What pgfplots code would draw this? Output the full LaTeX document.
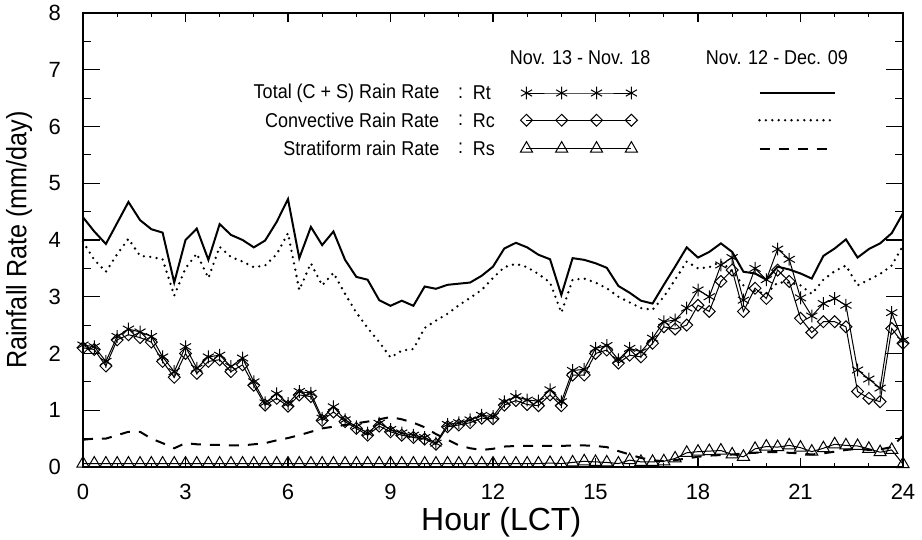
\documentclass[border=0pt]{standalone}
\usepackage{fontspec}
\setmainfont{Liberation Sans}
\newfontfamily\narrowfont{Liberation Sans}[FakeStretch=0.9]
\usepackage{pgfplots}
\pgfplotsset{compat=1.18}
\usepackage{pgfplotstable}

% Nov. 13 - Nov. 18 (20-min means)
\pgfplotstableread{
h Rt Rc Rs
0.00 2.15 2.10 0.06
0.33 2.12 2.07 0.06
0.67 1.86 1.78 0.06
1.00 2.30 2.24 0.06
1.33 2.43 2.33 0.06
1.67 2.38 2.28 0.06
2.00 2.30 2.20 0.06
2.33 1.94 1.86 0.06
2.67 1.68 1.58 0.06
3.00 2.12 2.00 0.06
3.33 1.74 1.65 0.06
3.67 1.94 1.86 0.06
4.00 1.97 1.89 0.06
4.33 1.77 1.68 0.06
4.67 1.92 1.80 0.06
5.00 1.50 1.44 0.06
5.33 1.13 1.09 0.06
5.67 1.29 1.21 0.06
6.00 1.12 1.07 0.06
6.33 1.33 1.27 0.06
6.67 1.30 1.24 0.06
7.00 0.86 0.82 0.06
7.33 1.06 0.97 0.06
7.67 0.83 0.80 0.06
8.00 0.71 0.68 0.06
8.33 0.60 0.56 0.06
8.67 0.77 0.72 0.06
9.00 0.66 0.62 0.06
9.33 0.60 0.56 0.06
9.67 0.56 0.52 0.06
10.00 0.52 0.49 0.06
10.33 0.42 0.40 0.06
10.67 0.75 0.71 0.06
11.00 0.78 0.74 0.06
11.33 0.83 0.78 0.06
11.67 0.91 0.86 0.06
12.00 0.89 0.85 0.06
12.33 1.15 1.09 0.06
12.67 1.24 1.17 0.06
13.00 1.18 1.10 0.06
13.33 1.16 1.08 0.06
13.67 1.36 1.27 0.07
14.00 1.15 1.08 0.06
14.33 1.70 1.62 0.08
14.67 1.72 1.62 0.10
15.00 2.09 2.00 0.09
15.33 2.14 2.06 0.08
15.67 1.89 1.83 0.06
16.00 2.09 1.97 0.12
16.33 2.03 1.94 0.09
16.67 2.27 2.18 0.09
17.00 2.56 2.47 0.10
17.33 2.59 2.43 0.15
17.67 2.80 2.50 0.25
18.00 3.12 2.85 0.27
18.33 3.00 2.74 0.28
18.67 3.56 3.27 0.29
19.00 3.69 3.47 0.22
19.33 2.94 2.74 0.18
19.67 3.50 3.15 0.32
20.00 3.30 2.97 0.36
20.33 3.84 3.47 0.35
20.67 3.66 3.27 0.38
21.00 2.98 2.62 0.34
21.33 2.66 2.37 0.27
21.67 2.88 2.56 0.33
22.00 2.97 2.56 0.40
22.33 2.85 2.47 0.38
22.67 1.71 1.33 0.37
23.00 1.55 1.21 0.32
23.33 1.39 1.15 0.26
23.67 2.72 2.44 0.30
24.00 2.23 2.18 0.05
}\novA

% Nov. 12 - Dec. 09
\pgfplotstableread{
h T C S
0.00 4.40 3.97 0.48
0.33 4.15 3.65 0.50
0.67 3.93 3.44 0.50
1.00 4.30 3.75 0.56
1.33 4.67 4.02 0.62
1.67 4.35 3.72 0.62
2.00 4.19 3.70 0.50
2.33 4.13 3.66 0.42
2.67 3.25 3.02 0.33
3.00 4.00 3.50 0.42
3.33 4.20 3.76 0.40
3.67 3.65 3.33 0.39
4.00 4.28 3.88 0.39
4.33 4.09 3.70 0.38
4.67 4.00 3.62 0.38
5.00 3.87 3.52 0.40
5.33 3.99 3.55 0.42
5.67 4.32 3.75 0.47
6.00 4.72 4.12 0.51
6.33 3.68 3.12 0.56
6.67 4.23 3.59 0.62
7.00 3.91 3.20 0.68
7.33 4.15 3.42 0.71
7.67 3.65 3.05 0.74
8.00 3.35 2.72 0.77
8.33 3.30 2.45 0.80
8.67 2.94 2.20 0.84
9.00 2.84 1.93 0.88
9.33 2.93 2.05 0.84
9.67 2.84 2.08 0.78
10.00 3.18 2.45 0.70
10.33 3.14 2.58 0.58
10.67 3.21 2.70 0.48
11.00 3.23 2.85 0.38
11.33 3.25 2.98 0.33
11.67 3.37 3.12 0.30
12.00 3.53 3.33 0.32
12.33 3.85 3.52 0.36
12.67 3.95 3.58 0.37
13.00 3.87 3.52 0.37
13.33 3.74 3.40 0.37
13.67 3.66 3.25 0.37
14.00 3.03 2.72 0.37
14.33 3.68 3.30 0.38
14.67 3.65 3.32 0.38
15.00 3.59 3.25 0.37
15.33 3.51 3.15 0.35
15.67 3.19 3.00 0.28
16.00 3.07 2.90 0.22
16.33 2.93 2.80 0.16
16.67 2.88 2.77 0.12
17.00 3.21 3.00 0.10
17.33 3.53 3.30 0.12
17.67 3.87 3.62 0.15
18.00 3.69 3.50 0.18
18.33 3.79 3.52 0.20
18.67 3.94 3.62 0.21
19.00 3.79 3.45 0.22
19.33 3.44 3.20 0.24
19.67 3.41 3.10 0.25
20.00 3.30 3.05 0.26
20.33 3.53 3.25 0.26
20.67 3.48 3.25 0.25
21.00 3.41 3.20 0.24
21.33 3.32 3.05 0.22
21.67 3.72 3.30 0.24
22.00 3.85 3.45 0.27
22.33 4.01 3.55 0.30
22.67 3.69 3.20 0.32
23.00 3.84 3.30 0.30
23.33 3.94 3.40 0.31
23.67 4.12 3.55 0.35
24.00 4.47 3.90 0.55
}\novB

\begin{document}
\begin{tikzpicture}
\begin{axis}[
  name=ax,
  scale only axis,
  width=410pt, height=227pt,
  xmin=0, xmax=24, ymin=0, ymax=8,
  xtick={0,3,...,24}, ytick={0,1,...,8},
  minor x tick num=2, minor y tick num=1,
  tick align=inside,
  xticklabel pos=bottom, yticklabel pos=left,
  axis line style={line width=0.8pt},
  xtick style={/pgfplots/major tick length=4.5pt, /pgfplots/minor tick length=2.2pt, line width=0.6pt, black},
  ytick style={/pgfplots/major tick length=8.5pt, /pgfplots/minor tick length=4.2pt, line width=0.6pt, black},
  tick label style={font=\fontsize{11}{13}\selectfont},
  /pgf/number format/assume math mode=true,
  yticklabel shift=7.5pt,
  xticklabel shift=5pt,
  xlabel={Hour (LCT)},
  ylabel={Rainfall Rate (mm/day)},
  xlabel style={font=\fontsize{16}{18}\selectfont, at={(axis description cs:0.51,-0.121)}, anchor=center},
  ylabel style={font=\narrowfont\fontsize{14}{16}\selectfont, at={(axis description cs:-0.078,0.5)}, anchor=center},
  clip=false,
  every node/.append style={text=black},
]
% Nov. 13 - Nov. 18
\addplot[black, line width=0.5pt, mark=triangle, mark size=3.5pt,
  mark options={solid, fill=white, line width=0.5pt}] table[x=h,y=Rs]{\novA};
\addplot[black, line width=0.5pt, mark=square, mark size=2.1pt,
  mark options={solid, rotate=45, fill=white, line width=0.5pt}] table[x=h,y=Rc]{\novA};
\addplot[black, line width=0.5pt, mark=asterisk, mark size=3.2pt,
  mark options={solid, line width=0.5pt}] table[x=h,y=Rt]{\novA};
% Nov. 12 - Dec. 09
\addplot[black, line width=1pt, mark=none] table[x=h,y=T]{\novB};
\addplot[black, line width=1.3pt, dash pattern=on 0pt off 3.2pt, line cap=round, mark=none] table[x=h,y=C]{\novB};
\addplot[black, line width=1pt, dash pattern=on 5pt off 4.5pt, mark=none] table[x=h,y=S]{\novB};

% legend samples
\addplot[black, line width=0.5pt, mark=asterisk, mark size=3.2pt, mark options={solid, line width=0.5pt}]
  coordinates {(12.98,6.59)(14.01,6.59)(15.03,6.59)(16.05,6.59)};
\addplot[black, line width=0.5pt, mark=square, mark size=2.1pt, mark options={solid, rotate=45, fill=white, line width=0.5pt}]
  coordinates {(12.98,6.11)(14.01,6.11)(15.03,6.11)(16.05,6.11)};
\addplot[black, line width=0.5pt, mark=triangle, mark size=3.5pt, mark options={solid, fill=white, line width=0.5pt}]
  coordinates {(12.98,5.61)(14.01,5.61)(15.03,5.61)(16.05,5.61)};
\addplot[black, line width=1pt, mark=none] coordinates {(19.80,6.59)(22.02,6.59)};
\addplot[black, line width=1.3pt, dash pattern=on 0pt off 3.2pt, line cap=round, mark=none] coordinates {(19.80,6.11)(22.02,6.11)};
\addplot[black, line width=1pt, dash pattern=on 5pt off 4.5pt, mark=none] coordinates {(19.80,5.61)(22.02,5.61)};

\begin{scope}[every node/.style={inner sep=0pt, font=\narrowfont\fontsize{10}{12}\selectfont}]
\node[anchor=east] at (axis cs:10.44,6.59) {Total (C + S) Rain Rate};
\node[anchor=east] at (axis cs:10.44,6.11) {Convective Rain Rate};
\node[anchor=east] at (axis cs:10.44,5.61) {Stratiform rain Rate};
\node at (axis cs:11.05,6.59) {:};
\node at (axis cs:11.05,6.11) {:};
\node at (axis cs:11.05,5.61) {:};
\node[anchor=west] at (axis cs:11.40,6.59) {Rt};
\node[anchor=west] at (axis cs:11.40,6.11) {Rc};
\node[anchor=west] at (axis cs:11.40,5.61) {Rs};
\node at (axis cs:14.55,7.21) {Nov. 13 - Nov. 18};
\node at (axis cs:20.31,7.21) {Nov. 12 - Dec. 09};
\end{scope}
\end{axis}
\pgfresetboundingbox
\path[use as bounding box] ([shift={(-41.5pt,-36.5pt)}]ax.south west) rectangle ([shift={(9.5pt,6.5pt)}]ax.north east);
\end{tikzpicture}
\end{document}
